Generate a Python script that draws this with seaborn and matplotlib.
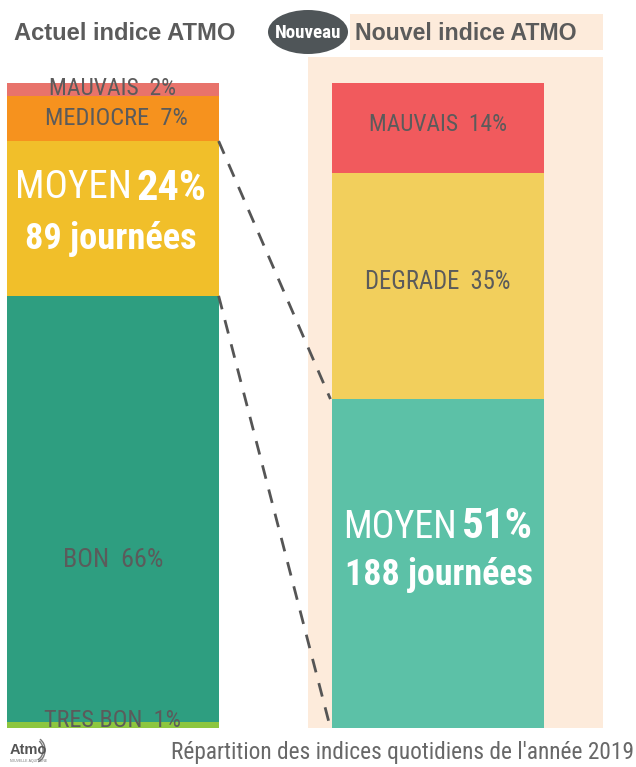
import matplotlib
matplotlib.use("Agg")
import matplotlib.pyplot as plt
from matplotlib.patches import Rectangle, Ellipse, Arc
from matplotlib import font_manager
import numpy as np
import pandas as pd
import seaborn as sns

# données
actuel_labels = ["TRES BON", "BON", "MOYEN", "MEDIOCRE", "MAUVAIS"]
actuel_pct = [1, 66, 24, 7, 2]
actuel_colors = ["#8dc63f", "#2e9e80", "#f1bf2a", "#f6921e", "#e8736b"]

nouvel_labels = ["MOYEN", "DEGRADE", "MAUVAIS"]
nouvel_pct = [51, 35, 14]
nouvel_colors = ["#5cc1a7", "#f2cf5c", "#f15a5d"]

actuel_jours = 89
nouvel_jours = 188

sns.set_style("white")
plt.rcParams["font.family"] = ["Liberation Sans", "DejaVu Sans"]

# police étroite si disponible
fonts = font_manager.fontManager.ttflist
names = {f.name for f in fonts}
COND = dict(family=["DejaVu Sans"])
for nm in ("Roboto Condensed", "Liberation Sans Narrow", "Open Sans Condensed"):
    if nm in names:
        COND = dict(family=[nm, "DejaVu Sans"])
        break
else:
    if any(f.name == "DejaVu Sans" and f.stretch == "condensed" for f in fonts):
        COND = dict(family=["DejaVu Sans"], fontstretch="condensed")
    elif "Roboto" in names:
        COND = dict(family=["Roboto", "DejaVu Sans"])

GRAY = "#5b5b5b"
PEACH = "#fdebdb"

fig = plt.figure(figsize=(6.36, 7.67), dpi=100)
fig.patch.set_facecolor("white")
renderer = fig.canvas.get_renderer()
fitted = []

def fit(t, width):
    fitted.append((t, width))
    return t

# fond / décor en coordonnées pixels
bg = fig.add_axes([0, 0, 1, 1], zorder=0)
bg.set_xlim(0, 636)
bg.set_ylim(767, 0)
bg.axis("off")
bg.add_patch(Rectangle((308, 57), 295, 671, color=PEACH, lw=0))
bg.add_patch(Rectangle((350, 14), 253, 36, color=PEACH, lw=0))
bg.add_patch(Ellipse((308, 32), 80, 44, color="#4f5558", lw=0))
fit(bg.text(308, 33, "Nouveau", color="white", fontsize=8.5, fontweight="bold",
            ha="center", va="center", **COND), 66)
fit(bg.text(14, 33, "Actuel indice ATMO", color=GRAY, fontsize=15.5,
            fontweight="bold", ha="left", va="center"), 222)
fit(bg.text(355, 33, "Nouvel indice ATMO", color=GRAY, fontsize=15.5,
            fontweight="bold", ha="left", va="center"), 223)
fit(bg.text(634, 752, "Répartition des indices quotidiens de l'année 2019",
            color="#686868", fontsize=15.5, ha="right", va="center", **COND), 462)
bg.text(10, 750, "Atmo", color="#555555", fontsize=10.5, fontweight="bold",
        ha="left", va="center")
bg.text(10, 761, "NOUVELLE-AQUITAINE", color="#777777", fontsize=2.5,
        ha="left", va="center")
for r in (14, 18):
    bg.add_patch(Arc((36, 750), r, r + 6, theta1=-70, theta2=80,
                     color="#777777", lw=1))

# axes principal : y en pourcentage
ax = fig.add_axes([0, (767 - 728) / 767, 1, 645 / 767], zorder=2)
ax.patch.set_alpha(0)
cats = ["Actuel", "Nouvel"]

def stack(cat, labels, values, colors):
    bottom = 0
    for lab, v, c in zip(labels, values, colors):
        df = pd.DataFrame({"indice": [cat], "pct": [v]})
        sns.barplot(data=df, x="indice", y="pct", order=cats, color=c,
                    width=0.65, bottom=bottom, saturation=1, linewidth=0,
                    ax=ax)
        bottom += v

stack("Actuel", actuel_labels, actuel_pct, actuel_colors)
stack("Nouvel", nouvel_labels, nouvel_pct, nouvel_colors)

ax.set_xlim(-113 / 325, (636 - 113) / 325)
ax.set_ylim(0, 100)
ax.axis("off")

a_cum = np.cumsum([0] + actuel_pct)
n_cum = np.cumsum([0] + nouvel_pct)

# pointillés reliant les deux barres
xr = 0.325
xl = 1 - 0.325 - 0.006
ax.plot([xr, xl], [a_cum[3], n_cum[1]], ls=(0, (5, 4)), color="#555555", lw=2)
ax.plot([xr, xl], [a_cum[2], n_cum[0]], ls=(0, (5, 4)), color="#555555", lw=2)

small = dict(color=GRAY, fontsize=17, ha="center", va="center", **COND)
# barre de gauche
fit(ax.text(0.0, a_cum[5] - 0.8, f"MAUVAIS  {actuel_pct[4]}%", **small), 127)
fit(ax.text(0.01, (a_cum[3] + a_cum[4]) / 2, f"MEDIOCRE  {actuel_pct[3]}%", **small), 143)
fit(ax.text(0.0, a_cum[1] + 0.38 * actuel_pct[1], f"BON  {actuel_pct[1]}%", **small), 100)
fit(ax.text(0.0, 1.2, f"TRES BON  {actuel_pct[0]}%", **small), 137)
# barre de droite
fit(ax.text(1, (n_cum[2] + n_cum[3]) / 2 + 0.6, f"MAUVAIS  {nouvel_pct[2]}%", **small), 138)
fit(ax.text(1, (n_cum[1] + n_cum[2]) / 2 + 0.7, f"DEGRADE  {nouvel_pct[1]}%", **small), 145)

def px(x):
    return (x - 113) / 325

big = dict(color="white", fontsize=30, va="center", **COND)
def big_label(xc, x_end, x_start, y1, y2, name, pct, jours, w):
    fit(ax.text(px(x_end), y1, name, ha="right", **big), w[0])
    fit(ax.text(px(x_start), y1, f"{pct}%", ha="left", fontweight="bold", **big), w[1])
    fit(ax.text(xc, y2, f"{jours} journées", ha="center", fontweight="bold",
                **big), w[2])

big_label(px(111), 132, 137, (728 - 188) / 6.45, (728 - 239) / 6.45,
          "MOYEN", actuel_pct[2], actuel_jours, (117, 70, 172))
big_label(px(439), 457, 462, (728 - 527) / 6.45, (728 - 575) / 6.45,
          "MOYEN", nouvel_pct[0], nouvel_jours, (114, 71, 188))

# ajuste la taille des textes à la largeur mesurée sur l'image
for t, w in fitted:
    cur = t.get_window_extent(renderer).width
    t.set_fontsize(t.get_fontsize() * w / cur)

fig.savefig("out.png", dpi=100)
